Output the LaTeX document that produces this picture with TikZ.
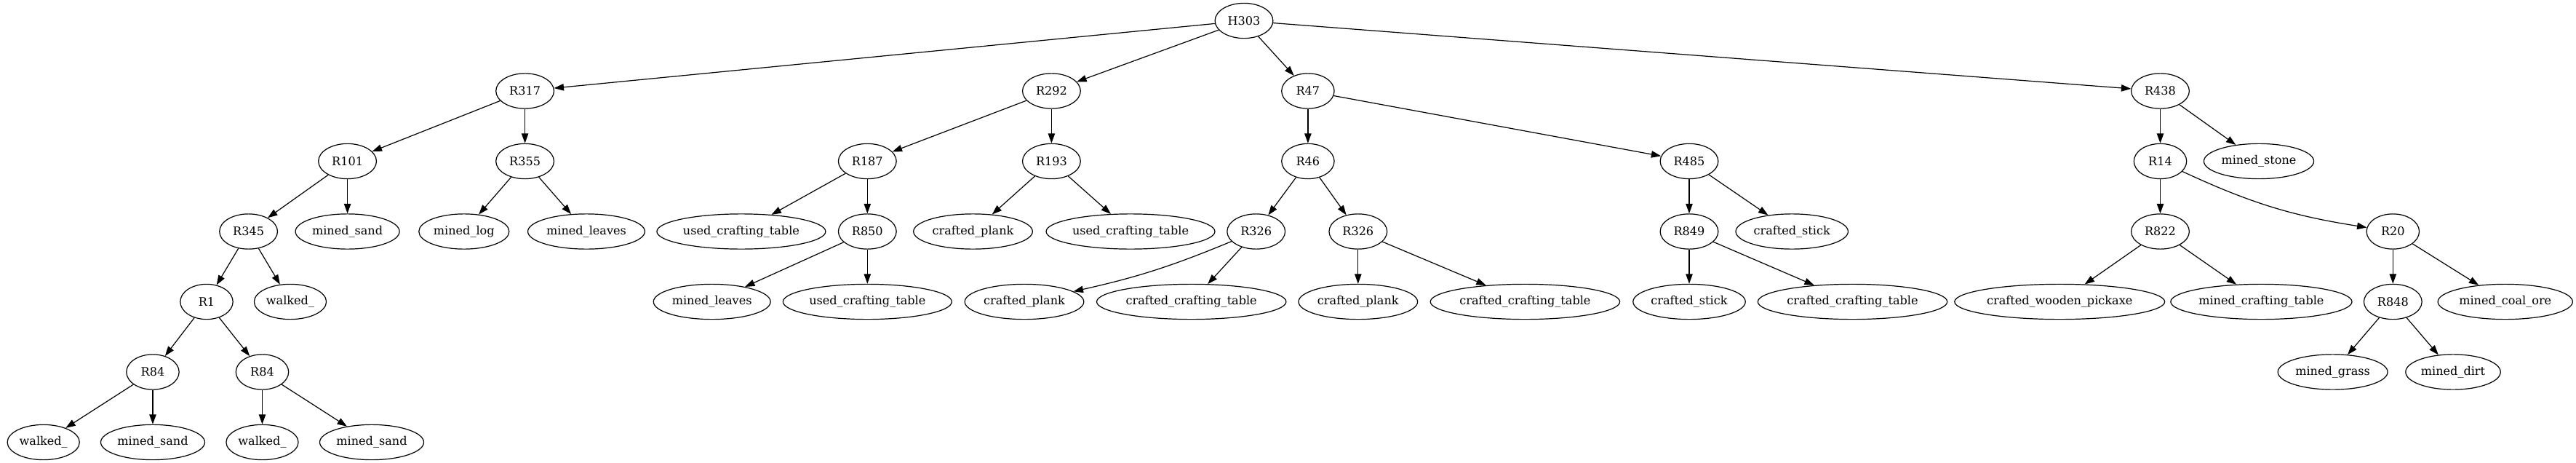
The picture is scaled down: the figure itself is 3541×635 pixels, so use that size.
\documentclass[tikz,border=0pt]{standalone}
\usepackage{fontspec}
\setmainfont{DejaVu Serif}
\usetikzlibrary{shapes.geometric,arrows.meta}
\tikzset{
	state/.style={ellipse, draw, line width=0.9pt, minimum width=54pt, minimum height=36pt, inner xsep=1.5pt, font=\fontsize{12}{14}\selectfont},
	wide/.style={state, minimum width=59.5pt},
	link/.style={line width=0.9pt, -{Triangle[length=10pt,width=7pt]}}
}

\begin{document}
\begin{tikzpicture}[x=0.7461pt, y=-0.7461pt]
			%%%%% START %%%%%
			\useasboundingbox (0, 0) rectangle (3541, 635);
			
			% rank 0
			\node[wide] (H303) at (1710, 28.5) {H303};
			
			% rank 1
			\node[wide] (R317) at (721.6, 125) {R317};
			\node[wide] (R292) at (1445.4, 125) {R292};
			\node[state] (R47) at (1797.9, 125) {R47};
			\node[wide] (R438) at (2969.5, 125) {R438};
			
			% rank 2
			\node[wide] (R101) at (477.6, 221.5) {R101};
			\node[wide] (R355) at (721.6, 221.5) {R355};
			\node[wide] (R187) at (1192.3, 221.5) {R187};
			\node[wide] (R193) at (1445.4, 221.5) {R193};
			\node[state] (R46) at (1797.9, 221.5) {R46};
			\node[wide] (R485) at (2322, 221.5) {R485};
			\node[state] (R14) at (2969.5, 221.5) {R14};
			\node[state] (stone) at (3105, 221.5) {mined\_stone};
			
			% rank 3
			\node[wide] (R345) at (341.6, 318) {R345};
			\node[state] (sandA) at (477.6, 318) {mined\_sand};
			\node[state] (log) at (637.8, 318) {mined\_log};
			\node[state] (leavesA) at (806, 318) {mined\_leaves};
			\node[state] (tableA) at (1018.9, 318) {used\_crafting\_table};
			\node[wide] (R850) at (1192.3, 318) {R850};
			\node[state] (plankA) at (1337.5, 318) {crafted\_plank};
			\node[state] (tableB) at (1554, 318) {used\_crafting\_table};
			\node[wide] (R326a) at (1726.7, 318) {R326};
			\node[wide] (R326b) at (1866.8, 318) {R326};
			\node[wide] (R849) at (2322, 318) {R849};
			\node[state] (stickA) at (2463.2, 318) {crafted\_stick};
			\node[wide] (R822) at (2969.5, 318) {R822};
			\node[state] (R20) at (3289.3, 318) {R20};
			
			% rank 4
			\node[state] (R1) at (284, 414.5) {R1};
			\node[state] (walkA) at (399, 414.5) {walked\_};
			\node[state] (leavesB) at (978.7, 414.5) {mined\_leaves};
			\node[state] (tableC) at (1192.3, 414.5) {used\_crafting\_table};
			\node[state] (plankB) at (1408, 414.5) {crafted\_plank};
			\node[state] (craftA) at (1637.7, 414.5) {crafted\_crafting\_table};
			\node[state] (plankC) at (1866.8, 414.5) {crafted\_plank};
			\node[state] (craftB) at (2096.4, 414.5) {crafted\_crafting\_table};
			\node[state] (stickB) at (2322, 414.5) {crafted\_stick};
			\node[state] (craftC) at (2546.5, 414.5) {crafted\_crafting\_table};
			\node[state] (pickaxe) at (2831.2, 414.5) {crafted\_wooden\_pickaxe};
			\node[state] (tableD) at (3108.4, 414.5) {mined\_crafting\_table};
			\node[wide] (R848) at (3289.3, 414.5) {R848};
			\node[state] (coal) at (3443.7, 414.5) {mined\_coal\_ore};
			
			% rank 5
			\node[state] (R84a) at (210, 511) {R84};
			\node[state] (R84b) at (360.5, 511) {R84};
			\node[state] (grass) at (3206.6, 511) {mined\_grass};
			\node[state] (dirt) at (3372, 511) {mined\_dirt};
			
			% rank 6
			\node[state] (walkB) at (59.7, 607.5) {walked\_};
			\node[state] (sandB) at (210, 607.5) {mined\_sand};
			\node[state] (walkC) at (360.5, 607.5) {walked\_};
			\node[state] (sandC) at (511, 607.5) {mined\_sand};
			
			% edges
			\draw[link] (H303) -- (R317);
			\draw[link] (H303) -- (R292);
			\draw[link] (H303) -- (R47);
			\draw[link] (H303) -- (R438);
			
			\draw[link] (R317) -- (R101);
			\draw[link] (R317) -- (R355);
			\draw[link] (R101) -- (R345);
			\draw[link] (R101) -- (sandA);
			\draw[link] (R345) -- (R1);
			\draw[link] (R345) -- (walkA);
			\draw[link] (R1) -- (R84a);
			\draw[link] (R1) -- (R84b);
			\draw[link] (R84a) -- (walkB);
			\draw[link] (R84a) -- (sandB);
			\draw[link] (R84b) -- (walkC);
			\draw[link] (R84b) -- (sandC);
			\draw[link] (R355) -- (log);
			\draw[link] (R355) -- (leavesA);
			
			\draw[link] (R292) -- (R187);
			\draw[link] (R292) -- (R193);
			\draw[link] (R187) -- (tableA);
			\draw[link] (R187) -- (R850);
			\draw[link] (R850) -- (leavesB);
			\draw[link] (R850) -- (tableC);
			\draw[link] (R193) -- (plankA);
			\draw[link] (R193) -- (tableB);
			
			\draw[link] (R47) -- (R46);
			\draw[link] (R47) -- (R485);
			\draw[link] (R46) -- (R326a);
			\draw[link] (R46) -- (R326b);
			\draw[link] (R326a) to[bend left=5] (plankB);
			\draw[link] (R326a) -- (craftA);
			\draw[link] (R326b) -- (plankC);
			\draw[link] (R326b) -- (craftB);
			\draw[link] (R485) -- (R849);
			\draw[link] (R485) -- (stickA);
			\draw[link] (R849) -- (stickB);
			\draw[link] (R849) -- (craftC);
			
			\draw[link] (R438) -- (R14);
			\draw[link] (R438) -- (stone);
			\draw[link] (R14) -- (R822);
			\draw[link] (R14) to[bend right=8] (R20);
			\draw[link] (R822) -- (pickaxe);
			\draw[link] (R822) -- (tableD);
			\draw[link] (R20) -- (R848);
			\draw[link] (R20) -- (coal);
			\draw[link] (R848) -- (grass);
			\draw[link] (R848) -- (dirt);
			
			%%%%% END %%%%%
\end{tikzpicture}
\end{document}
